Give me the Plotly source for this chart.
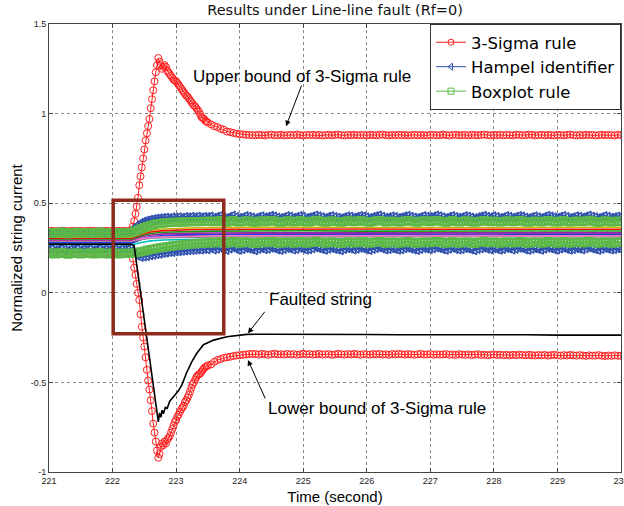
import plotly.graph_objects as go

# ---------------- axis ticks ----------------
x_ticks = [221, 222, 223, 224, 225, 226, 227, 228, 229, 230]
x_tick_text = ["221", "222", "223", "224", "225", "226", "227", "228", "229", "230"]
y_ticks = [-1, -0.5, 0, 0.5, 1, 1.5]
y_tick_text = ["-1", "-0.5", "0", "0.5", "1", "1.5"]

# ---------------- sampling times ----------------
t_band = [round(221 + 0.05 * i, 2) for i in range(181)]
t_sigma = ([round(221 + 0.05 * i, 2) for i in range(26)]
           + [round(222.30 + 0.02 * i, 2) for i in range(61)]
           + [round(223.55 + 0.05 * i, 2) for i in range(130)])

# ---------------- 3-Sigma rule bounds ----------------
sigma_upper = [
    0.345, 0.346, 0.344, 0.345, 0.347, 0.345, 0.344, 0.346, 0.345, 0.345,
    0.346, 0.344, 0.345, 0.347, 0.346, 0.345, 0.344, 0.345, 0.346, 0.345,
    0.344, 0.346, 0.345, 0.345, 0.346, 0.345,
    0.35, 0.37, 0.40, 0.44, 0.48, 0.53, 0.60, 0.65, 0.70, 0.75, 0.80,
    0.85, 0.89, 0.93, 0.97, 1.03, 1.08, 1.13, 1.18, 1.23, 1.27,
    1.31, 1.29, 1.27, 1.25, 1.26, 1.27, 1.26, 1.24, 1.23, 1.22,
    1.21, 1.20, 1.19, 1.185, 1.18, 1.17, 1.16, 1.15, 1.14, 1.13,
    1.12, 1.11, 1.10, 1.095, 1.085, 1.075, 1.065, 1.055, 1.045, 1.04,
    1.03, 1.02, 1.01, 0.995, 0.98, 0.975, 0.97, 0.96, 0.955, 0.95,
    0.94, 0.93, 0.925, 0.915, 0.91, 0.90, 0.897, 0.892, 0.888, 0.885,
    0.884, 0.882, 0.881, 0.880,
    0.879, 0.882, 0.880, 0.878, 0.881, 0.883, 0.879, 0.880, 0.882, 0.878,
    0.880, 0.881, 0.879, 0.883, 0.880, 0.878, 0.881, 0.880, 0.882, 0.879,
    0.881, 0.878, 0.880, 0.882, 0.879, 0.881, 0.883, 0.880, 0.878, 0.881,
    0.880, 0.882, 0.879, 0.880, 0.881, 0.878, 0.882, 0.880, 0.879, 0.881,
    0.883, 0.880, 0.878, 0.881, 0.879, 0.882, 0.880, 0.881, 0.878, 0.880,
    0.882, 0.879, 0.881, 0.880, 0.878, 0.882, 0.881, 0.879, 0.880, 0.883,
    0.880, 0.878, 0.881, 0.882, 0.879, 0.880, 0.881, 0.878, 0.882, 0.880,
    0.879, 0.881, 0.883, 0.880, 0.878, 0.881, 0.880, 0.882, 0.879, 0.881,
    0.880, 0.878, 0.882, 0.881, 0.879, 0.880, 0.883, 0.881, 0.878, 0.880,
    0.882, 0.879, 0.881, 0.880, 0.878, 0.882, 0.880, 0.879, 0.881, 0.883,
    0.880, 0.878, 0.881, 0.879, 0.882, 0.880, 0.881, 0.878, 0.880, 0.882,
    0.879, 0.881, 0.880, 0.878, 0.882, 0.880,
]
sigma_lower = [
    0.222, 0.221, 0.223, 0.222, 0.220, 0.222, 0.223, 0.221, 0.222, 0.222,
    0.221, 0.223, 0.222, 0.220, 0.221, 0.222, 0.223, 0.222, 0.221, 0.222,
    0.223, 0.221, 0.222, 0.222, 0.221, 0.222,
    0.22, 0.19, 0.14, 0.10, 0.05, 0.00, -0.04, -0.12, -0.19, -0.25, -0.30,
    -0.36, -0.43, -0.49, -0.54, -0.60, -0.66, -0.73, -0.78, -0.83, -0.88,
    -0.92, -0.90, -0.86, -0.84, -0.85, -0.83, -0.84, -0.82, -0.81, -0.80,
    -0.78, -0.76, -0.74, -0.72, -0.71, -0.69, -0.68, -0.665, -0.65, -0.64,
    -0.63, -0.61, -0.60, -0.585, -0.57, -0.55, -0.53, -0.51, -0.50, -0.485,
    -0.47, -0.46, -0.455, -0.45, -0.44, -0.43, -0.42, -0.415, -0.41, -0.405,
    -0.40, -0.385, -0.375, -0.37, -0.363, -0.36, -0.357, -0.353, -0.35, -0.348,
    -0.346, -0.344, -0.342, -0.341,
    -0.342, -0.345, -0.341, -0.343, -0.346, -0.342, -0.340, -0.344, -0.343, -0.345,
    -0.341, -0.344, -0.342, -0.346, -0.343, -0.340, -0.344, -0.342, -0.345, -0.343,
    -0.341, -0.345, -0.343, -0.342, -0.346, -0.344, -0.341, -0.343, -0.345, -0.342,
    -0.344, -0.341, -0.343, -0.346, -0.342, -0.344, -0.345, -0.342, -0.343, -0.341,
    -0.345, -0.343, -0.346, -0.342, -0.344, -0.341, -0.343, -0.345, -0.342, -0.344,
    -0.346, -0.343, -0.341, -0.345, -0.344, -0.342, -0.346, -0.343, -0.345, -0.344,
    -0.342, -0.346, -0.344, -0.347, -0.343, -0.345, -0.346, -0.344, -0.347, -0.345,
    -0.343, -0.347, -0.345, -0.348, -0.346, -0.344, -0.347, -0.345, -0.348, -0.346,
    -0.349, -0.346, -0.348, -0.345, -0.347, -0.349, -0.346, -0.348, -0.350, -0.347,
    -0.349, -0.347, -0.350, -0.348, -0.346, -0.349, -0.351, -0.348, -0.350, -0.347,
    -0.349, -0.351, -0.348, -0.350, -0.352, -0.349, -0.351, -0.350, -0.348, -0.351,
    -0.353, -0.350, -0.352, -0.349, -0.351, -0.352,
]

# ---------------- Hampel identifier bounds ----------------
hampel_upper = [
    0.333, 0.338, 0.331, 0.336, 0.340, 0.334, 0.330, 0.337, 0.335, 0.339,
    0.332, 0.336, 0.334, 0.338, 0.331, 0.335, 0.340, 0.333, 0.336, 0.332,
    0.338, 0.335, 0.331, 0.337, 0.334, 0.336,
    0.350, 0.365, 0.380, 0.392, 0.400, 0.405, 0.410, 0.413, 0.416, 0.418,
    0.420, 0.421, 0.419, 0.423, 0.422, 0.424, 0.421, 0.425, 0.423, 0.426,
    0.424, 0.427, 0.423, 0.426, 0.425,
    0.428, 0.421, 0.426, 0.431, 0.424, 0.419, 0.427, 0.433, 0.425, 0.420,
    0.424, 0.430, 0.427, 0.422, 0.418, 0.425, 0.429, 0.423, 0.426, 0.432,
    0.428, 0.422, 0.419, 0.424, 0.430, 0.427, 0.421, 0.425, 0.431, 0.426,
    0.420, 0.423, 0.428, 0.434, 0.429, 0.424, 0.420, 0.426, 0.430, 0.425,
    0.421, 0.418, 0.424, 0.429, 0.427, 0.422, 0.426, 0.431, 0.428, 0.423,
    0.419, 0.425, 0.430, 0.433, 0.427, 0.421, 0.424, 0.428, 0.425, 0.420,
    0.423, 0.429, 0.432, 0.426, 0.422, 0.419, 0.425, 0.430, 0.427, 0.424,
    0.428, 0.433, 0.429, 0.423, 0.420, 0.426, 0.431, 0.425, 0.421, 0.424,
    0.430, 0.427, 0.422, 0.418, 0.424, 0.428, 0.432, 0.426, 0.423, 0.429,
    0.425, 0.420, 0.424, 0.430, 0.427, 0.421, 0.426, 0.431, 0.428, 0.422,
    0.419, 0.425, 0.429, 0.424, 0.420, 0.426, 0.432, 0.428, 0.423, 0.421,
    0.427, 0.431, 0.425, 0.420, 0.424, 0.429, 0.426, 0.422, 0.428, 0.433,
    0.427, 0.423, 0.419, 0.425, 0.430, 0.426, 0.421, 0.424, 0.428, 0.425,
]
hampel_lower = [
    0.241, 0.246, 0.239, 0.244, 0.248, 0.242, 0.238, 0.245, 0.243, 0.247,
    0.240, 0.244, 0.242, 0.246, 0.239, 0.243, 0.248, 0.241, 0.244, 0.240,
    0.246, 0.243, 0.239, 0.245, 0.242, 0.244,
    0.235, 0.220, 0.205, 0.198, 0.200, 0.203, 0.207, 0.210, 0.214, 0.216,
    0.220, 0.222, 0.225, 0.226, 0.229, 0.230, 0.232, 0.234, 0.235, 0.237,
    0.238, 0.240, 0.239, 0.242, 0.241,
    0.246, 0.239, 0.244, 0.249, 0.242, 0.237, 0.245, 0.251, 0.243, 0.238,
    0.242, 0.248, 0.245, 0.240, 0.236, 0.243, 0.247, 0.241, 0.244, 0.250,
    0.246, 0.240, 0.237, 0.242, 0.248, 0.245, 0.239, 0.243, 0.249, 0.244,
    0.238, 0.241, 0.246, 0.252, 0.247, 0.242, 0.238, 0.244, 0.248, 0.243,
    0.239, 0.236, 0.242, 0.247, 0.245, 0.240, 0.244, 0.249, 0.246, 0.241,
    0.237, 0.243, 0.248, 0.251, 0.245, 0.239, 0.242, 0.246, 0.243, 0.238,
    0.241, 0.247, 0.250, 0.244, 0.240, 0.237, 0.243, 0.248, 0.245, 0.242,
    0.246, 0.251, 0.247, 0.241, 0.238, 0.244, 0.249, 0.243, 0.239, 0.242,
    0.248, 0.245, 0.240, 0.236, 0.242, 0.246, 0.250, 0.244, 0.241, 0.247,
    0.243, 0.238, 0.242, 0.248, 0.245, 0.239, 0.244, 0.249, 0.246, 0.240,
    0.237, 0.243, 0.247, 0.242, 0.238, 0.244, 0.250, 0.246, 0.241, 0.239,
    0.245, 0.249, 0.243, 0.238, 0.242, 0.247, 0.244, 0.240, 0.246, 0.251,
    0.245, 0.241, 0.237, 0.243, 0.248, 0.244, 0.239, 0.242, 0.246, 0.243,
]

# ---------------- Boxplot rule bounds ----------------
box_upper = [
    0.333, 0.337, 0.331, 0.336, 0.339, 0.334, 0.330, 0.336, 0.335, 0.338,
    0.332, 0.335, 0.334, 0.337, 0.331, 0.335, 0.339, 0.333, 0.336, 0.332,
    0.337, 0.335, 0.331, 0.336, 0.334, 0.335,
    0.337, 0.343, 0.350, 0.358, 0.365, 0.370, 0.375, 0.380, 0.385, 0.387,
    0.389, 0.391, 0.392, 0.393, 0.394, 0.395, 0.394, 0.396, 0.397, 0.396,
    0.398, 0.397, 0.398, 0.399, 0.398,
    0.401, 0.396, 0.399, 0.403, 0.397, 0.394, 0.400, 0.404, 0.398, 0.395,
    0.398, 0.402, 0.400, 0.396, 0.393, 0.399, 0.402, 0.397, 0.400, 0.404,
    0.401, 0.396, 0.394, 0.398, 0.402, 0.400, 0.395, 0.398, 0.403, 0.399,
    0.395, 0.397, 0.401, 0.405, 0.402, 0.398, 0.394, 0.399, 0.402, 0.398,
    0.396, 0.393, 0.398, 0.402, 0.400, 0.396, 0.399, 0.403, 0.401, 0.397,
    0.394, 0.398, 0.402, 0.404, 0.400, 0.395, 0.397, 0.401, 0.398, 0.395,
    0.397, 0.401, 0.404, 0.399, 0.396, 0.394, 0.399, 0.402, 0.400, 0.397,
    0.401, 0.404, 0.401, 0.397, 0.394, 0.399, 0.403, 0.398, 0.395, 0.398,
    0.402, 0.400, 0.396, 0.393, 0.398, 0.401, 0.404, 0.399, 0.397, 0.401,
    0.398, 0.395, 0.398, 0.402, 0.400, 0.396, 0.399, 0.403, 0.401, 0.396,
    0.394, 0.398, 0.401, 0.398, 0.395, 0.399, 0.404, 0.401, 0.397, 0.395,
    0.400, 0.403, 0.398, 0.395, 0.398, 0.401, 0.399, 0.396, 0.401, 0.405,
    0.400, 0.397, 0.394, 0.398, 0.402, 0.399, 0.395, 0.397, 0.401, 0.398,
]
box_lower = [
    0.218, 0.223, 0.216, 0.221, 0.225, 0.219, 0.215, 0.222, 0.220, 0.224,
    0.217, 0.221, 0.219, 0.223, 0.216, 0.220, 0.225, 0.218, 0.221, 0.217,
    0.223, 0.220, 0.216, 0.222, 0.219, 0.221,
    0.221, 0.223, 0.226, 0.229, 0.233, 0.237, 0.241, 0.245, 0.248, 0.251,
    0.254, 0.257, 0.259, 0.262, 0.264, 0.266, 0.268, 0.270, 0.271, 0.273,
    0.274, 0.276, 0.276, 0.278, 0.278,
    0.283, 0.278, 0.281, 0.285, 0.279, 0.276, 0.282, 0.286, 0.280, 0.277,
    0.280, 0.284, 0.282, 0.278, 0.275, 0.281, 0.284, 0.279, 0.282, 0.286,
    0.283, 0.278, 0.276, 0.280, 0.284, 0.282, 0.277, 0.280, 0.285, 0.281,
    0.277, 0.279, 0.283, 0.287, 0.284, 0.280, 0.276, 0.281, 0.284, 0.280,
    0.278, 0.275, 0.280, 0.284, 0.282, 0.278, 0.281, 0.285, 0.283, 0.279,
    0.276, 0.280, 0.284, 0.286, 0.282, 0.277, 0.279, 0.283, 0.280, 0.277,
    0.279, 0.283, 0.286, 0.281, 0.278, 0.276, 0.281, 0.284, 0.282, 0.279,
    0.283, 0.286, 0.283, 0.279, 0.276, 0.281, 0.285, 0.280, 0.277, 0.280,
    0.284, 0.282, 0.278, 0.275, 0.280, 0.283, 0.286, 0.281, 0.279, 0.283,
    0.280, 0.277, 0.280, 0.284, 0.282, 0.278, 0.281, 0.285, 0.283, 0.278,
    0.276, 0.280, 0.283, 0.280, 0.277, 0.281, 0.286, 0.283, 0.279, 0.277,
    0.282, 0.285, 0.280, 0.277, 0.280, 0.283, 0.281, 0.278, 0.283, 0.287,
    0.282, 0.279, 0.276, 0.280, 0.284, 0.281, 0.277, 0.279, 0.283, 0.280,
]

# ---------------- faulted string ----------------
t_fault = [221.0, 221.4, 221.8, 222.1, 222.3, 222.34, 222.40, 222.48, 222.56, 222.64,
           222.72, 222.74, 222.76, 222.78, 222.80, 222.83, 222.86, 222.90, 222.96, 223.03,
           223.09, 223.16, 223.24, 223.32, 223.43, 223.59, 223.80, 224.11, 224.5, 225.0,
           225.5, 226.0, 226.5, 227.0, 227.5, 228.0, 228.5, 229.0, 229.5, 230.0]
fault_current = [0.271, 0.272, 0.270, 0.271, 0.270, 0.262, 0.105, -0.10, -0.31, -0.51,
                 -0.72, -0.67, -0.695, -0.655, -0.675, -0.64, -0.645, -0.605, -0.58, -0.55,
                 -0.515, -0.45, -0.39, -0.34, -0.29, -0.264, -0.245, -0.232, -0.231, -0.233,
                 -0.232, -0.233, -0.234, -0.233, -0.234, -0.235, -0.234, -0.236, -0.235, -0.236]

# ---------------- normal strings ----------------
t_norm = [221.0, 221.5, 222.0, 222.3, 222.45, 222.6, 222.8, 223.0, 223.3, 223.6,
          224.0, 225.0, 226.0, 227.0, 228.0, 229.0, 230.0]
string_yellow = [0.310, 0.311, 0.309, 0.310, 0.332, 0.348, 0.356, 0.360, 0.363, 0.364, 0.365, 0.366, 0.364, 0.365, 0.366, 0.364, 0.365]
string_red = [0.305, 0.304, 0.306, 0.305, 0.325, 0.340, 0.347, 0.351, 0.353, 0.354, 0.355, 0.354, 0.356, 0.355, 0.354, 0.356, 0.355]
string_green = [0.300, 0.301, 0.299, 0.300, 0.318, 0.331, 0.338, 0.341, 0.343, 0.344, 0.345, 0.346, 0.344, 0.345, 0.346, 0.344, 0.345]
string_magenta = [0.295, 0.294, 0.296, 0.295, 0.311, 0.323, 0.329, 0.332, 0.333, 0.334, 0.335, 0.334, 0.336, 0.335, 0.334, 0.336, 0.335]
string_gray = [0.288, 0.287, 0.289, 0.288, 0.298, 0.305, 0.308, 0.310, 0.311, 0.312, 0.312, 0.313, 0.311, 0.312, 0.313, 0.311, 0.312]
string_navy = [0.278, 0.279, 0.277, 0.278, 0.297, 0.310, 0.317, 0.321, 0.323, 0.324, 0.325, 0.326, 0.324, 0.325, 0.326, 0.324, 0.325]
string_blue = [0.282, 0.281, 0.283, 0.282, 0.300, 0.313, 0.320, 0.324, 0.326, 0.327, 0.328, 0.327, 0.329, 0.328, 0.327, 0.329, 0.328]
string_pink = [0.292, 0.293, 0.291, 0.292, 0.302, 0.309, 0.313, 0.315, 0.316, 0.317, 0.318, 0.319, 0.317, 0.318, 0.319, 0.317, 0.318]
string_cyan = [0.268, 0.267, 0.269, 0.268, 0.281, 0.290, 0.295, 0.297, 0.299, 0.300, 0.300, 0.301, 0.299, 0.300, 0.301, 0.299, 0.300]

assert len(sigma_upper) == len(t_sigma) == len(sigma_lower), (len(sigma_upper), len(sigma_lower), len(t_sigma))
for arr in (hampel_upper, hampel_lower, box_upper, box_lower):
    assert len(arr) == len(t_band), len(arr)
assert len(t_fault) == len(fault_current)

FONT = "Liberation Sans, Arial, Helvetica, sans-serif"
WIDE_FONT = "DejaVu Sans, Verdana, sans-serif"
RED = "#ff1f1f"
BLUE = "#3052ae"
GREEN = "#5cb848"

fig = go.Figure()

normal_strings = [
    (string_cyan, "#00bcbc"), (string_navy, "#101070"), (string_blue, "#2244ee"),
    (string_gray, "#8a8a8a"), (string_pink, "#ff70c8"), (string_magenta, "#a020a0"),
    (string_green, "#1a9a1a"), (string_red, "#ee1010"), (string_yellow, "#c8b000"),
]
for vals, col in normal_strings:
    fig.add_trace(go.Scatter(x=t_norm, y=vals, mode="lines", showlegend=False,
                             line=dict(color=col, width=1.6), hoverinfo="skip"))

for vals in (sigma_upper, sigma_lower):
    fig.add_trace(go.Scatter(
        x=t_sigma, y=vals, mode="lines+markers", showlegend=False, hoverinfo="skip",
        line=dict(color=RED, width=1),
        marker=dict(symbol="circle-open", size=7, color=RED, line=dict(width=1, color=RED))))

for vals in (hampel_upper, hampel_lower):
    fig.add_trace(go.Scatter(
        x=t_band, y=vals, mode="lines+markers", showlegend=False, hoverinfo="skip",
        line=dict(color=BLUE, width=1.5),
        marker=dict(symbol="triangle-left-open", size=7, color=BLUE, line=dict(width=1.5, color=BLUE))))

for vals in (box_upper, box_lower):
    fig.add_trace(go.Scatter(
        x=t_band, y=vals, mode="lines+markers", showlegend=False, hoverinfo="skip",
        line=dict(color=GREEN, width=2.5),
        marker=dict(symbol="square-open", size=7, color=GREEN, line=dict(width=2, color=GREEN))))

fig.add_trace(go.Scatter(x=t_fault, y=fault_current, mode="lines", showlegend=False,
                         line=dict(color="black", width=1.6), hoverinfo="skip"))

# legend entries (thin style, as in the original legend)
legend_items = [("3-Sigma rule", RED, "circle-open"),
                ("Hampel identifier", BLUE, "triangle-left-open"),
                ("Boxplot rule", GREEN, "square-open")]
for name, col, sym in legend_items:
    fig.add_trace(go.Scatter(x=[None], y=[None], mode="lines+markers", name=name,
                             line=dict(color=col, width=1),
                             marker=dict(symbol=sym, size=6, color=col, line=dict(width=1, color=col))))

# zoom box around the transient
fig.add_shape(type="rect", x0=222.01, x1=223.75, y0=-0.228, y1=0.517,
              line=dict(color="#8e2c1c", width=3.5), fillcolor="rgba(0,0,0,0)", layer="above")

text_font = dict(family=FONT, size=17, color="black")
fig.add_annotation(x=223.23, y=1.209, text="Upper bound of 3-Sigma rule", showarrow=False,
                   xanchor="left", yanchor="middle", font=text_font)
fig.add_annotation(x=224.43, y=-0.037, text="Faulted string", showarrow=False,
                   xanchor="left", yanchor="middle", font=text_font)
fig.add_annotation(x=224.41, y=-0.645, text="Lower bound of 3-Sigma rule", showarrow=False,
                   xanchor="left", yanchor="middle", font=text_font)
arrow = dict(showarrow=True, text="", arrowhead=2, arrowsize=1.1, arrowwidth=1, arrowcolor="black")
fig.add_annotation(x=224.73, y=0.93, ax=16, ay=-42, **arrow)
fig.add_annotation(x=224.13, y=-0.226, ax=18, ay=-23, **arrow)
fig.add_annotation(x=224.13, y=-0.375, ax=18, ay=40, **arrow)

axis_common = dict(showline=True, linecolor="#444", linewidth=1, mirror="ticks",
                   ticks="inside", ticklen=4, tickcolor="#444", ticklabeloverflow="allow",
                   automargin=False,
                   showgrid=True, gridcolor="#8a8a8a", griddash="dot", gridwidth=1,
                   zeroline=False, tickfont=dict(family=FONT, size=9, color="#222"))

fig.update_layout(
    width=624, height=506,
    margin=dict(l=49, r=3, t=24, b=34),
    paper_bgcolor="white", plot_bgcolor="white",
    font=dict(family=FONT, color="black"),
    title=dict(text="Results under Line-line fault (Rf=0)", x=0.537, xanchor="center",
               y=0.98, yanchor="middle", yref="container",
               font=dict(family=WIDE_FONT, size=14.5, color="#111")),
    xaxis=dict(range=[221, 230], tickvals=x_ticks, ticktext=x_tick_text,
               title=dict(text="Time (second)", standoff=6, font=dict(family=FONT, size=15)),
               **axis_common),
    yaxis=dict(range=[-1, 1.5], tickvals=y_ticks, ticktext=y_tick_text,
               title=dict(text="Normalized string current", standoff=4, font=dict(family=FONT, size=15)),
               **axis_common),
    legend=dict(x=1, y=1, xanchor="right", yanchor="top", bgcolor="white",
                bordercolor="#333", borderwidth=1, font=dict(family=WIDE_FONT, size=16.5),
                tracegroupgap=0),
    showlegend=True,
)

fig.write_html("out.html", config={"displayModeBar": False},
               post_script="document.body.style.margin='0px';document.body.style.overflow='hidden';")
